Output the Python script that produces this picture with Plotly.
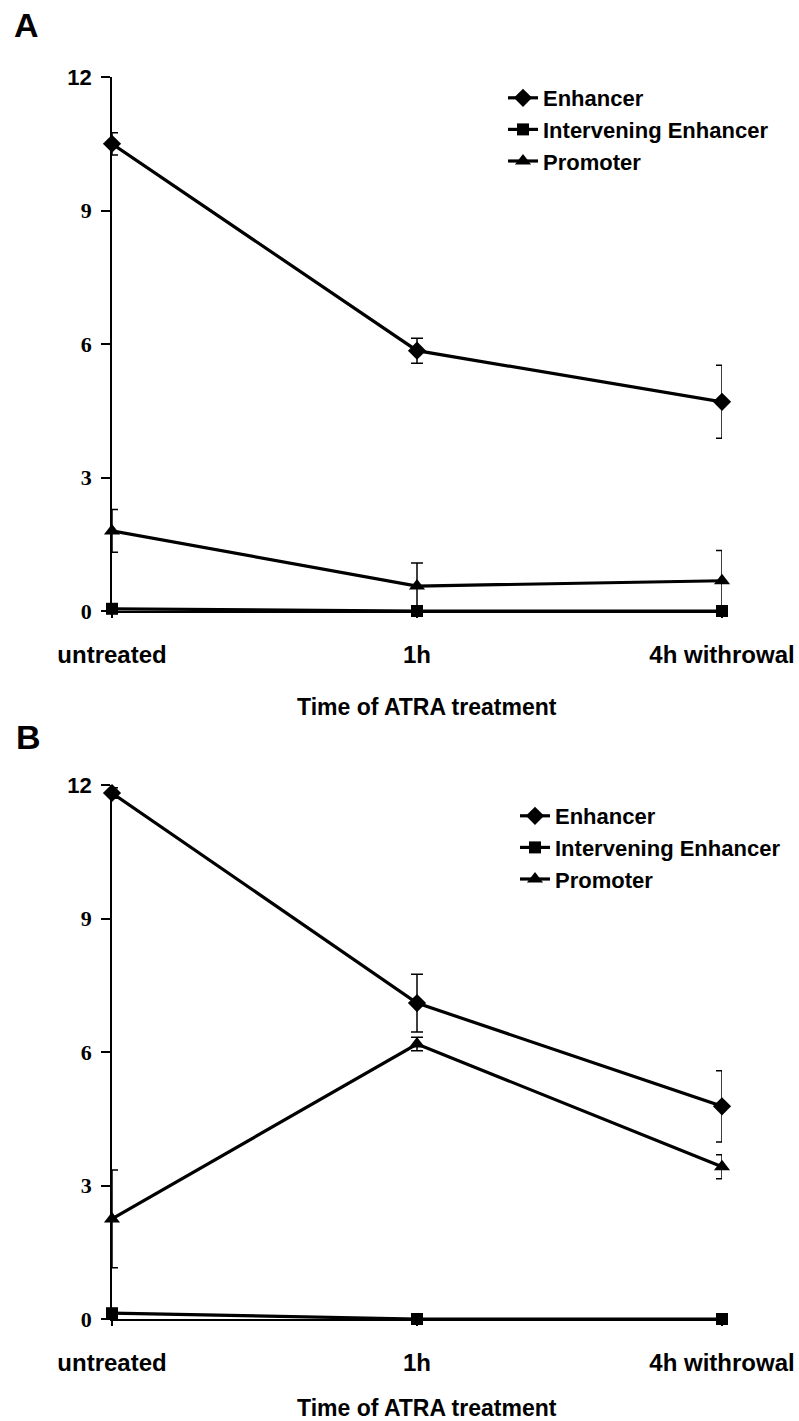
import plotly.graph_objects as go

# ---------------- data ----------------
categories = ["untreated", "1h", "4h withrowal"]
x_pos = [0, 1, 2]
y_tickvals = [0, 3, 6, 9, 12]
y_ticktext = ["0", "3", "6", "9", "12"]
series_names = ["Enhancer", "Intervening Enhancer", "Promoter"]

# Panel A
a_enhancer = [10.5, 5.85, 4.70]
a_enhancer_err = [0.25, 0.28, 0.82]
a_intervening = [0.05, 0.0, 0.0]
a_intervening_err = [0.0, 0.0, 0.0]
a_promoter = [1.80, 0.56, 0.68]
a_promoter_err = [0.48, 0.52, 0.68]

# Panel B
b_enhancer = [11.82, 7.10, 4.78]
b_enhancer_err = [0.12, 0.65, 0.80]
b_intervening = [0.13, 0.0, 0.0]
b_intervening_err = [0.0, 0.0, 0.0]
b_promoter = [2.25, 6.18, 3.42]
b_promoter_err = [1.10, 0.15, 0.27]

# ---------------- figure ----------------
W, H = 799, 1421
FONT = "Liberation Sans, Arial, sans-serif"
SERIF = "Liberation Serif, Times New Roman, serif"
symbols = ["diamond", "square", "triangle-up"]
msizes = [14, 12, 14]

fig = go.Figure()

panels = [
    ("x", "y", "legend", [a_enhancer, a_intervening, a_promoter],
     [a_enhancer_err, a_intervening_err, a_promoter_err]),
    ("x2", "y2", "legend2", [b_enhancer, b_intervening, b_promoter],
     [b_enhancer_err, b_intervening_err, b_promoter_err]),
]

for xa, ya, lg, vals, errs in panels:
    for name, sym, ms, v, e in zip(series_names, symbols, msizes, vals, errs):
        fig.add_trace(go.Scatter(
            x=x_pos, y=v, name=name, mode="lines+markers",
            xaxis=xa, yaxis=ya, legend=lg, cliponaxis=False,
            line=dict(color="black", width=3.2),
            marker=dict(symbol=sym, size=ms, color="black"),
            error_y=dict(type="data", array=e, visible=True,
                         color="black", thickness=1.5, width=6),
        ))

def py(pix):
    return 1 - pix / H

xdom = [112 / W, 722 / W]
tick_text_y = y_ticktext[:-1] + [
    "<span style='font-family:Liberation Sans, Arial'>" + y_ticktext[-1] + "</span>"]

xaxis_common = dict(
    domain=xdom, range=[0, 2], tickvals=x_pos, ticktext=categories,
    showline=True, linecolor="black", linewidth=1.5, automargin=False,
    ticks="outside", ticklen=5, tickcolor="black", tickwidth=1.5,
    showgrid=False, zeroline=False, ticklabelstandoff=16,
    tickfont=dict(family=FONT, size=24, color="black", weight="bold"),
)
yaxis_common = dict(
    range=[0, 12], tickvals=y_tickvals, ticktext=tick_text_y,
    showline=True, linecolor="black", linewidth=1.5, automargin=False,
    ticks="outside", ticklen=9, tickcolor="black", tickwidth=1.5,
    showgrid=False, zeroline=False, ticklabelstandoff=5,
    tickfont=dict(family=SERIF, size=22, color="black", weight="bold"),
)

legend_font = dict(family=FONT, size=22, color="black", weight="bold")

fig.update_layout(
    template="none",
    width=W, height=H, autosize=False,
    margin=dict(l=0, r=0, t=0, b=0, pad=0),
    paper_bgcolor="white", plot_bgcolor="white",
    showlegend=True,
    xaxis=dict(xaxis_common, anchor="y"),
    yaxis=dict(yaxis_common, domain=[py(611), py(77)], anchor="x"),
    xaxis2=dict(xaxis_common, anchor="y2"),
    yaxis2=dict(yaxis_common, domain=[py(1319), py(785)], anchor="x2"),
    legend=dict(x=503 / W, y=py(77), xanchor="left", yanchor="top",
                bgcolor="rgba(0,0,0,0)", font=legend_font),
    legend2=dict(x=515 / W, y=py(795), xanchor="left", yanchor="top",
                 bgcolor="rgba(0,0,0,0)", font=legend_font),
)

annots = [
    ("A", 26, 25, 34), ("B", 28, 737, 34),
    ("Time of ATRA treatment", 427, 707, 23),
    ("Time of ATRA treatment", 427, 1408, 23),
]
for txt, ax_, ay_, sz in annots:
    fig.add_annotation(text=txt, x=ax_ / W, y=py(ay_), xref="paper", yref="paper",
                       xanchor="center", yanchor="middle", showarrow=False,
                       font=dict(family=FONT, size=sz, color="black", weight="bold"))

fig.write_html("out.html")
